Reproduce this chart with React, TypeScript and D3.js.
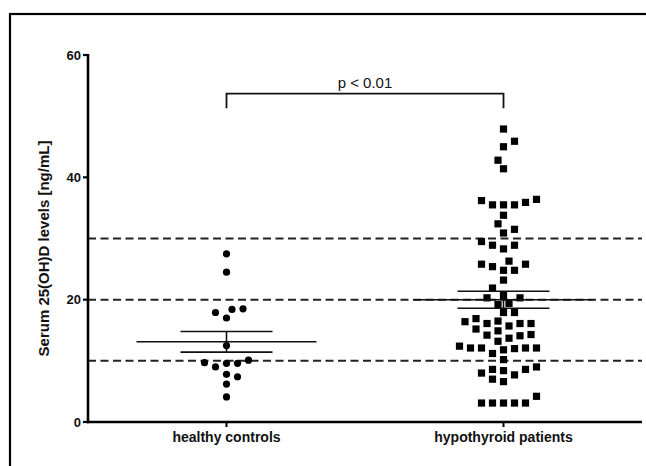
import React from 'react';
import * as d3 from 'd3';

// values (ng/mL)
const categories = ['healthy controls', 'hypothyroid patients'];

const healthyControls = [
  27.5, 24.5, 18.4, 17.0, 17.9, 18.5, 12.5, 10.1, 9.6, 9.0, 9.6, 9.7, 7.4, 7.8, 6.2, 4.1,
];

const hypothyroidPatients = [
  47.9, 45.9, 45.0, 42.8, 41.4,
  35.5, 36.2, 35.9, 35.5, 36.4, 35.5,
  33.8, 32.4, 31.5, 30.9, 29.5, 28.9, 28.3, 28.9,
  26.3, 25.8, 24.8, 25.4, 24.8, 25.8,
  23.2, 21.9,
  20.3, 20.3, 20.7, 19.2, 19.4, 17.9, 17.9,
  16.9, 16.4, 16.1, 15.7, 16.1, 16.1, 16.5,
  15.2, 14.9, 14.3, 14.1, 14.2, 13.7, 13.2,
  12.4, 12.1, 12.1, 11.8, 11.2, 12.0, 12.1, 12.1,
  10.2, 9.0, 8.6, 8.6, 8.4, 8.0, 7.7, 7.0, 6.6,
  3.1, 3.1, 3.1, 3.1, 3.1, 4.2,
];

const yTicks = [0, 20, 40, 60];
const cutoffLines = [10, 20, 30];
const pLabel = 'p < 0.01';
const yLabel = 'Serum 25(OH)D levels [ng/mL]';

const width = 646;
const height = 466;
const font = '"Liberation Sans", Arial, sans-serif';

// simple beeswarm: place each point at the nearest free grid slot
const swarm = (values: number[], y: (v: number) => number, step: number, minDist: number) => {
  const order = values.map((_, i) => i).sort((a, b) => values[a] - values[b]);
  const placed: { x: number; y: number }[] = [];
  const offsets = new Array(values.length).fill(0);
  let flip = 1;
  order.forEach((i) => {
    const py = y(values[i]);
    for (let k = 0; k < 40; k++) {
      const cands = k === 0 ? [0] : [flip * k * step, -flip * k * step];
      const ok = cands.find((cx) =>
        placed.every((p) => Math.hypot(p.x - cx, p.y - py) >= minDist)
      );
      if (ok !== undefined) {
        offsets[i] = ok;
        placed.push({ x: ok, y: py });
        if (ok !== 0) flip = -flip;
        break;
      }
    }
  });
  return offsets;
};

const stats = (vals: number[]) => {
  const mean = d3.mean(vals)!;
  const sem = d3.deviation(vals)! / Math.sqrt(vals.length);
  return { mean, sem };
};

const App = () => {
  const y = d3.scaleLinear().domain([0, 60]).range([422, 55]);
  const x = d3.scaleBand().domain(categories).range([88, 642]);
  const cx = (c: string) => x(c)! + x.bandwidth() / 2;

  const groups = [
    { name: categories[0], values: healthyControls, shape: 'circle' },
    { name: categories[1], values: hypothyroidPatients, shape: 'square' },
  ];

  const x0 = cx(categories[0]);
  const x1 = cx(categories[1]);
  const bracketY = y(53.7);
  const legY = y(51.3);

  return (
    <svg
      width={width}
      height={height}
      style={{ position: 'absolute', left: 0, top: 0, background: '#fff' }}
    >
      <rect x={10} y={14} width={700} height={520} fill="none" stroke="#000" strokeWidth={2.2} />

      {cutoffLines.map((v) => (
        <line
          key={v}
          x1={88}
          x2={642}
          y1={y(v)}
          y2={y(v)}
          stroke="#222"
          strokeWidth={2}
          strokeDasharray="8,4.5"
        />
      ))}

      {groups.map((g) => {
        const center = cx(g.name);
        const offs = swarm(g.values, y, 5.5, 9.2);
        const { mean, sem } = stats(g.values);
        return (
          <g key={g.name}>
            {g.values.map((v, i) =>
              g.shape === 'circle' ? (
                <circle key={i} cx={center + offs[i]} cy={y(v)} r={3.6} fill="#000" />
              ) : (
                <rect key={i} x={center + offs[i] - 3.6} y={y(v) - 3.6} width={7.2} height={7.2} fill="#000" />
              )
            )}
            <line x1={center - 90} x2={center + 90} y1={y(mean)} y2={y(mean)} stroke="#111" strokeWidth={1.6} />
            <line x1={center - 46} x2={center + 46} y1={y(mean + sem)} y2={y(mean + sem)} stroke="#111" strokeWidth={1.6} />
            <line x1={center - 46} x2={center + 46} y1={y(mean - sem)} y2={y(mean - sem)} stroke="#111" strokeWidth={1.6} />
            <line x1={center} x2={center} y1={y(mean + sem)} y2={y(mean - sem)} stroke="#111" strokeWidth={1.6} />
          </g>
        );
      })}

      {/* y axis */}
      <line x1={88} x2={88} y1={y(60) - 1} y2={y(0) + 1.2} stroke="#000" strokeWidth={2.6} />
      {yTicks.map((t) => (
        <g key={t}>
          <line x1={83} x2={88} y1={y(t)} y2={y(t)} stroke="#000" strokeWidth={2.2} />
          <text
            x={81}
            y={y(t)}
            dy="0.36em"
            textAnchor="end"
            fontFamily={font}
            fontWeight="bold"
            fontSize={13}
            fill="#111"
          >
            {t}
          </text>
        </g>
      ))}
      <text
        transform={`translate(49,${(y(60) + y(0)) / 2 + 10}) rotate(-90)`}
        textAnchor="middle"
        fontFamily={font}
        fontWeight="bold"
        fontSize={15}
        fill="#111"
      >
        {yLabel}
      </text>

      {/* x axis */}
      <line x1={87} x2={642} y1={y(0)} y2={y(0)} stroke="#000" strokeWidth={2.6} />
      {categories.map((c) => (
        <g key={c}>
          <line x1={cx(c)} x2={cx(c)} y1={y(0)} y2={y(0) + 5} stroke="#000" strokeWidth={2} />
          <text
            x={cx(c)}
            y={442}
            textAnchor="middle"
            fontFamily={font}
            fontWeight="bold"
            fontSize={14}
            fill="#111"
          >
            {c}
          </text>
        </g>
      ))}

      {/* significance bracket */}
      <path
        d={`M${x0},${legY}V${bracketY}H${x1}V${legY}`}
        fill="none"
        stroke="#111"
        strokeWidth={1.8}
      />
      <text
        x={(x0 + x1) / 2}
        y={88}
        textAnchor="middle"
        fontFamily={font}
        fontSize={15}
        fill="#111"
      >
        {pLabel}
      </text>
    </svg>
  );
};

export default App;
